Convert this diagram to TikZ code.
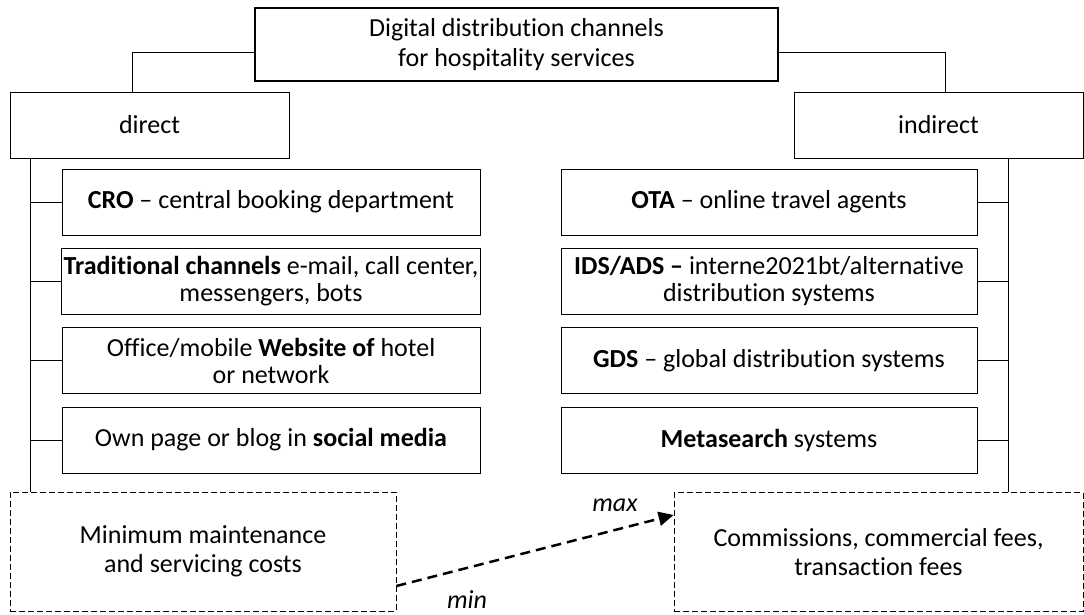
\documentclass[tikz,border=0pt]{standalone}
\usepackage{fontspec}
\setmainfont{Carlito}[Ligatures=NoCommon]
\usetikzlibrary{arrows.meta}

\tikzset{
    box/.style={draw, line width=0.8pt, minimum height=66pt, align=center, inner sep=2pt},
    costbox/.style={draw, dashed, dash pattern=on 6pt off 3pt, line width=0.8pt, minimum height=119pt, align=center,
        font=\fontsize{26}{29}\selectfont},
    link/.style={line width=0.8pt},
    costarrow/.style={line width=2.5pt, dash pattern=on 10pt off 6pt, -{Triangle[length=15pt, width=14pt]}},
    lbl/.style={font=\fontsize{26}{27}\selectfont\itshape, inner sep=1pt}
}

\begin{document}
\begin{tikzpicture}[x=1pt, y=-1pt, font=\fontsize{26}{27}\selectfont]
    % 邊界
    \useasboundingbox (0,0) rectangle (1084,615);

    % 標題與兩大類
    \node[box, line width=1.6pt, minimum width=523pt, minimum height=73pt, font=\fontsize{26}{30}\selectfont]
        (title) at (516.5,44.5) {Digital distribution channels\\for hospitality services};
    \node[box, minimum width=279pt] (direct) at (149.5,125) {direct};
    \node[box, minimum width=289pt] (indirect) at (938.5,125) {indirect};

    % 直接通路
    \node[box, minimum width=418pt] (cro) at (271,202) {\textbf{CRO} -- central booking department};
    \node[box, minimum width=418pt] (trad) at (271,281) {\textbf{Traditional channels} e-mail, call center,\\messengers, bots};
    \node[box, minimum width=418pt] (site) at (271,360.5) {Office/mobile \textbf{Website of} hotel\\or network};
    \node[box, minimum width=418pt] (social) at (271,440) {Own page or blog in \textbf{social media}};

    % 間接通路
    \node[box, minimum width=416pt] (ota) at (769,202) {\textbf{OTA} -- online travel agents};
    \node[box, minimum width=416pt] (ids) at (769,281) {\textbf{IDS/ADS --} interne2021bt/alternative\\distribution systems};
    \node[box, minimum width=416pt] (gds) at (769,360.5) {\textbf{GDS} -- global distribution systems};
    \node[box, minimum width=416pt] (meta) at (769,440) {\textbf{Metasearch} systems};

    % 成本
    \node[costbox, minimum width=386pt] (mincost) at (203,551.5) {Minimum maintenance\\and servicing costs};
    \node[costbox, minimum width=409pt] (maxcost) at (878.5,552) {Commissions, commercial fees,\\transaction fees};

    % 主幹
    \coordinate (ltrunk) at (30,158);
    \coordinate (rtrunk) at (1008,158);
    \coordinate (lup) at (132,52);
    \coordinate (rup) at (945,52);

    % 畫出連線
    \draw[link] (title.west |- lup) -| (direct.north -| lup);
    \draw[link] (title.east |- rup) -| (indirect.north -| rup);
    \draw[link] (ltrunk) -- (mincost.north -| ltrunk);
    \draw[link] (rtrunk) -- (maxcost.north -| rtrunk);
    \foreach \n in {cro, trad, site, social}
        \draw[link] (\n.west) -- (\n.west -| ltrunk);
    \foreach \n in {ota, ids, gds, meta}
        \draw[link] (\n.east) -- (\n.east -| rtrunk);

    % 箭頭
    \draw[costarrow] ([yshift=-34.5pt]mincost.east) -- ([yshift=37pt]maxcost.west);
    \node[lbl] (maxlbl) at (615,505) {max};
    \node[lbl] (minlbl) at (467,600) {min};
\end{tikzpicture}
\end{document}
